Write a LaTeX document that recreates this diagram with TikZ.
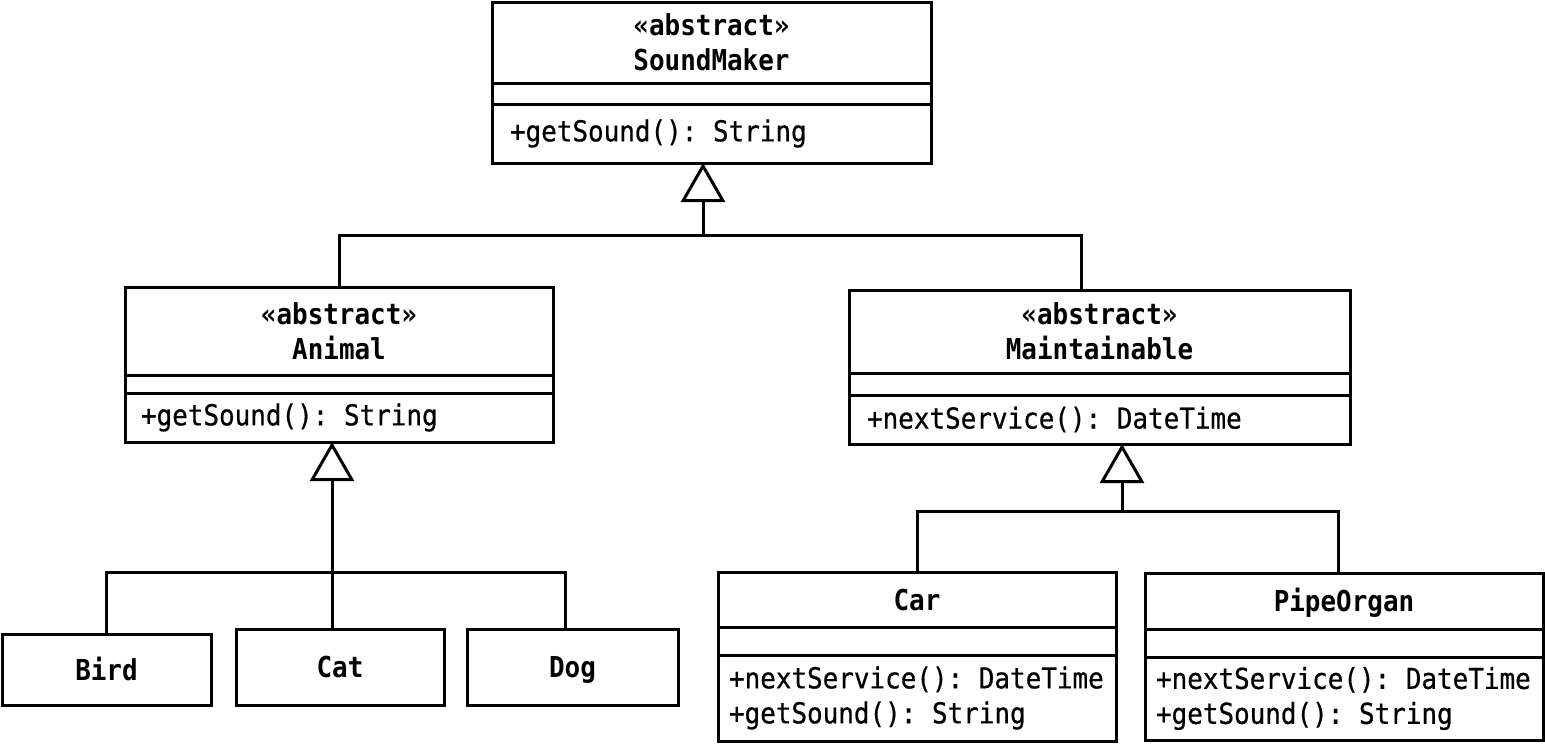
\documentclass[tikz,border=0pt]{standalone}
\usepackage{fontspec}
\setmonofont[FakeStretch=0.9, UprightFeatures={FakeBold=0.6}]{DejaVu Sans Mono}
\usepackage{tikz}
\usetikzlibrary{arrows.meta, positioning, calc}
\newcommand\tsp{\kern\fontcharwd\font`\x\relax}

\begin{document}
\begin{tikzpicture}[
  umlfont/.style={font=\ttfamily\fontsize{16.4}{19.9}\selectfont},
  chead/.style={draw, line width=0.06cm, outer sep=0pt, inner sep=0pt, align=center, umlfont, font=\ttfamily\bfseries\fontsize{16.4}{19.9}\selectfont},
  cleaf/.style={chead, text height=0.5cm, text depth=0.08cm},
  cattr/.style={draw, line width=0.06cm, outer sep=0pt, inner sep=0pt},
  cops/.style={draw, line width=0.06cm, outer sep=0pt, inner ysep=0pt, inner xsep=0.36cm, align=left, umlfont},
  link/.style={line width=0.06cm},
  genarrow/.style={link, -{Triangle[open, length=0.78cm, width=0.88cm, line width=0.06cm]}}
]
  \useasboundingbox (0,0) rectangle (30.9,-14.86);

  % SoundMaker
  \node[chead, minimum width=8.78cm, minimum height=1.62cm] (sm) at (14.23,-0.85) {«abstract»\\SoundMaker};
  \node[cattr, minimum width=8.78cm, minimum height=0.42cm, below=0pt of sm] (sm-a) {};
  \node[cops, text width=8.06cm, minimum height=1.18cm, below=0pt of sm-a] (sm-o) {+getSound():\tsp String};

  % Animal
  \node[chead, minimum width=8.56cm, minimum height=1.76cm] (an) at (6.78,-6.62) {«abstract»\\Animal};
  \node[cattr, minimum width=8.56cm, minimum height=0.36cm, below=0pt of an] (an-a) {};
  \node[cops, inner xsep=0.32cm, text width=7.92cm, minimum height=0.98cm, below=0pt of an-a] (an-o) {+getSound():\tsp String};

  % Maintainable
  \node[chead, minimum width=10.02cm, minimum height=1.66cm] (ma) at (21.99,-6.63) {«abstract»\\Maintainable};
  \node[cattr, minimum width=10.02cm, minimum height=0.44cm, below=0pt of ma] (ma-a) {};
  \node[cops, text width=9.30cm, minimum height=0.98cm, below=0pt of ma-a] (ma-o) {+nextService():\tsp DateTime};

  % Bird, Cat, Dog
  \node[cleaf, minimum width=4.18cm, minimum height=1.42cm] (bird) at (2.13,-13.39) {Bird};
  \node[cleaf, minimum width=4.16cm, minimum height=1.52cm] (cat) at (6.80,-13.34) {Cat};
  \node[cleaf, minimum width=4.22cm, minimum height=1.52cm] (dog) at (11.45,-13.34) {Dog};

  % Car
  \node[cleaf, minimum width=7.96cm, minimum height=1.10cm] (car) at (18.34,-11.99) {Car};
  \node[cattr, minimum width=7.96cm, minimum height=0.56cm, below=0pt of car] (car-a) {};
  \node[cops, inner xsep=0.22cm, text width=7.52cm, minimum height=1.72cm, below=0pt of car-a] (car-o) {+nextService():\tsp DateTime\\+getSound():\tsp String};

  % PipeOrgan
  \node[cleaf, minimum width=7.96cm, minimum height=1.12cm] (po) at (26.88,-12.02) {PipeOrgan};
  \node[cattr, minimum width=7.96cm, minimum height=0.56cm, below=0pt of po] (po-a) {};
  \node[cops, inner xsep=0.22cm, text width=7.52cm, minimum height=1.66cm, below=0pt of po-a] (po-o) {+nextService():\tsp DateTime\\+getSound():\tsp String};

  % generalisations
  \coordinate (j-sm) at (14.06,-4.70);
  \coordinate (j-an) at (6.64,-11.44);
  \coordinate (j-ma) at (22.44,-10.22);

  \draw[genarrow] (j-sm) -- (j-sm |- sm-o.south);
  \draw[link] (an.north) |- (j-sm) -| ($(ma.north)+(-0.37,0)$);

  \draw[genarrow] (j-an) -- (j-an |- an-o.south);
  \draw[link] (bird.north) |- (j-an) -| ($(dog.north)+(-0.15,0)$);
  \draw[link] (j-an) -- (j-an |- cat.north);

  \draw[genarrow] (j-ma) -- (j-ma |- ma-o.south);
  \draw[link] (car.north) |- (j-ma) -| ($(po.north)+(-0.12,0)$);
\end{tikzpicture}
\end{document}
